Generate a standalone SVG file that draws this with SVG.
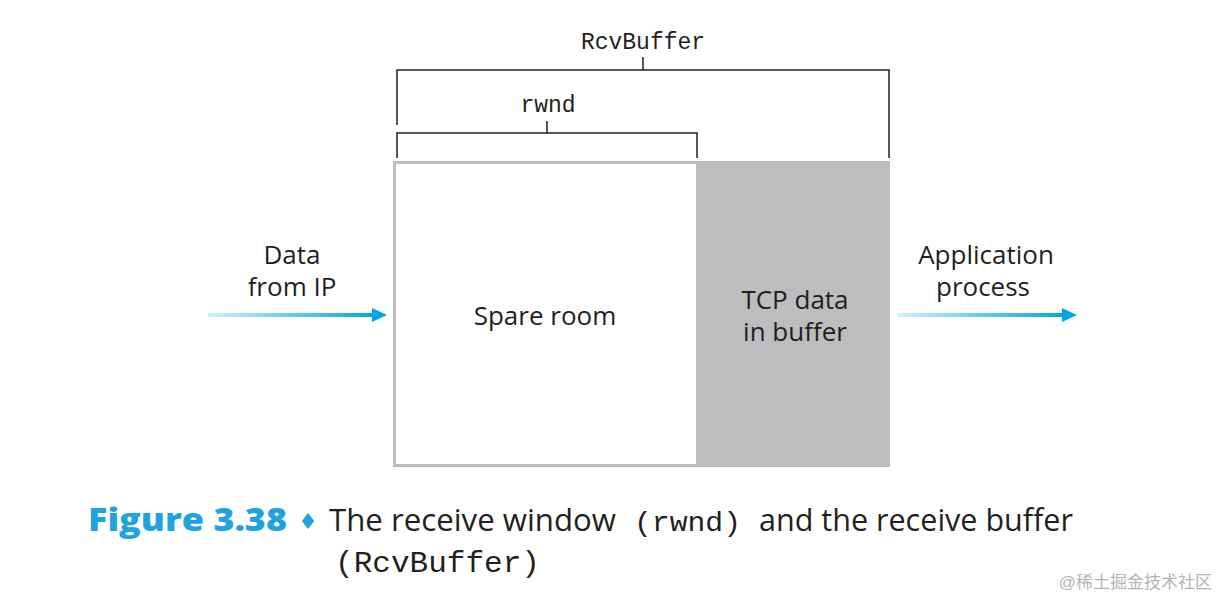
<svg xmlns="http://www.w3.org/2000/svg" width="1232" height="609" viewBox="0 0 1232 609">
<defs>
<linearGradient id="ag" x1="0" y1="0" x2="1" y2="0">
<stop offset="0" stop-color="#d6eef9"/>
<stop offset="1" stop-color="#00a6e6"/>
</linearGradient>
<style>
.sans{font-family:"Open Sans","Liberation Sans",sans-serif;fill:#231f20;font-size:26px;text-anchor:middle}
.mono{font-family:"Liberation Mono",monospace;fill:#231f20}
.br{fill:none;stroke:#231f20;stroke-width:1.5}
</style>
</defs>
<rect width="1232" height="609" fill="#ffffff"/>
<g id="buffer">
<rect x="697" y="161" width="193" height="306" fill="#bcbdbf"/>
<rect x="394.5" y="162.5" width="303" height="303" fill="#ffffff" stroke="#bcbdbf" stroke-width="3"/>
</g>
<g id="spare-room"><text class="sans" x="545" y="325">Spare room</text></g>
<g id="tcp-data"><text class="sans" x="795" y="309">TCP data</text><text class="sans" x="795" y="341">in buffer</text></g>
<g id="data-from-ip"><text class="sans" x="292" y="264">Data</text><text class="sans" x="292" y="296">from IP</text></g>
<g id="application"><text class="sans" x="986" y="264">Application</text><text class="sans" x="983" y="296">process</text></g>
<g id="rcvbuffer-label"><text class="mono" x="643" y="49" font-size="23" text-anchor="middle">RcvBuffer</text></g>
<g id="rwnd-label"><text class="mono" x="548" y="112" font-size="23" text-anchor="middle">rwnd</text></g>
<g id="connectors">
<path class="br" d="M397 125 V70 H889 V158 M643 57 V70"/>
<path class="br" d="M397 158 V133 H697 V158 M547 121 V133"/>
<rect x="208" y="313" width="166" height="4" fill="url(#ag)"/>
<polygon points="372,308 387,315 372,322" fill="#00a6e6"/>
<rect x="897" y="313" width="167" height="4" fill="url(#ag)"/>
<polygon points="1062,308 1077,315 1062,322" fill="#00a6e6"/>
</g>
<g id="caption">
<text x="88" y="531" font-family="'Open Sans','Liberation Sans',sans-serif" font-weight="800" font-size="32" fill="#1fa3df" textLength="199" lengthAdjust="spacingAndGlyphs">Figure 3.38</text>
<text x="298" y="529" font-family="'DejaVu Sans',sans-serif" font-size="22" fill="#1fa3df">♦</text>
<text x="329" y="531" font-family="'Open Sans','Liberation Sans',sans-serif" font-size="31" fill="#231f20" textLength="287" lengthAdjust="spacingAndGlyphs">The receive window</text>
<text x="634" y="531" class="mono" font-size="27" textLength="107" lengthAdjust="spacingAndGlyphs">(rwnd)</text>
<text x="759" y="531" font-family="'Open Sans','Liberation Sans',sans-serif" font-size="31" fill="#231f20" textLength="314" lengthAdjust="spacingAndGlyphs">and the receive buffer</text>
<text x="335" y="572" class="mono" font-size="30" textLength="205" lengthAdjust="spacingAndGlyphs">(RcvBuffer)</text>
</g>
<g id="watermark"><text x="1212" y="588" font-family="'Liberation Sans','Noto Sans CJK SC',sans-serif" font-size="17" fill="#b4b4b4" text-anchor="end">@稀土掘金技术社区</text></g>
</svg>
